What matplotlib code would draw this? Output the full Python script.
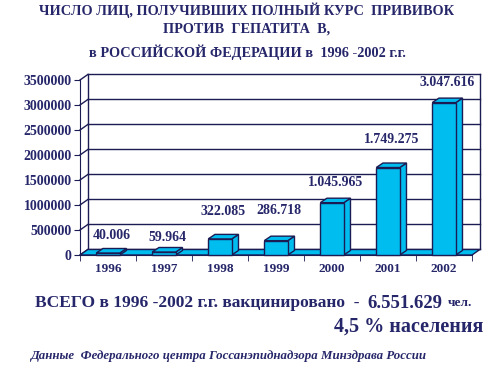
import matplotlib
matplotlib.use("Agg")
import matplotlib.pyplot as plt
from matplotlib.patches import Polygon

years = ["1996", "1997", "1998", "1999", "2000", "2001", "2002"]
vaccinated = [40006, 59964, 322085, 286718, 1045965, 1749275, 3047616]
value_labels = ["40.006", "59.964", "322.085", "286.718", "1.045.965", "1.749.275", "3.047.616"]
yticks = [0, 500000, 1000000, 1500000, 2000000, 2500000, 3000000, 3500000]

title_lines = ["ЧИСЛО ЛИЦ, ПОЛУЧИВШИХ ПОЛНЫЙ КУРС  ПРИВИВОК",
               "ПРОТИВ  ГЕПАТИТА  В,",
               "в РОССИЙСКОЙ ФЕДЕРАЦИИ в  1996 -2002 г.г."]
source_note = "Данные  Федерального центра Госсанэпиднадзора Минздрава России"

navy = "#26266a"
edge = "#1c1c55"
cyan = "#00bdf0"

plt.rcParams['font.family'] = ['Liberation Serif', 'DejaVu Serif']

fig = plt.figure(figsize=(5, 3.75), dpi=100)
ax = fig.add_axes([0.16, 0.32, 0.784, 0.4667])
ax.set_xlim(-0.5, 6.5)
ax.set_ylim(0, 3500000)

# pseudo-3d offsets (wall and bars)
wdx, wdy = 0.14, 110000
bdx, bdy = 0.12, 90000
x0, x1 = -0.5, 6.5
ytop = yticks[-1]

# back wall gridlines + side wall diagonals
for v in yticks:
    ax.plot([x0 + wdx, x1 + wdx], [v + wdy, v + wdy], color=edge, lw=1.0, clip_on=False, zorder=1)
    ax.plot([x0, x0 + wdx], [v, v + wdy], color=edge, lw=1.0, clip_on=False, zorder=1)
ax.plot([x0 + wdx, x0 + wdx], [wdy, ytop + wdy], color=edge, lw=1.0, clip_on=False, zorder=1)
ax.plot([x1 + wdx, x1 + wdx], [wdy, ytop + wdy], color=edge, lw=1.0, clip_on=False, zorder=1)

# floor
floor = Polygon([(x0, 0), (x1, 0), (x1 + wdx, wdy), (x0 + wdx, wdy)], closed=True,
                facecolor=cyan, edgecolor=edge, lw=1.0, clip_on=False, zorder=2)
ax.add_patch(floor)

# bars
w = 0.21
offsets_px = [11, 8, 21, 24, 14, 22, 14]
for i, v in enumerate(vaccinated):
    l, r = i - w, i + w
    front = Polygon([(l, 0), (r, 0), (r, v), (l, v)], closed=True)
    top = Polygon([(l, v), (r, v), (r + bdx, v + bdy), (l + bdx, v + bdy)], closed=True)
    side = Polygon([(r, 0), (r + bdx, bdy), (r + bdx, v + bdy), (r, v)], closed=True)
    for p in (side, front, top):
        p.set_facecolor(cyan)
        p.set_edgecolor(edge)
        p.set_linewidth(1.0)
        p.set_zorder(3)
        p.set_clip_on(False)
        ax.add_patch(p)
    ax.annotate(value_labels[i], (i + bdx / 2, v), xytext=(0, offsets_px[i]),
                textcoords="offset pixels", ha="center", va="bottom",
                fontsize=10, fontweight="bold", color=navy, zorder=4)

for s in ["top", "right"]:
    ax.spines[s].set_visible(False)
ax.spines["left"].set_color(edge)
ax.spines["bottom"].set_color(edge)
ax.spines["left"].set_zorder(5)

ax.set_yticks(yticks)
ax.set_yticklabels([str(t) for t in yticks], fontsize=10, fontweight="bold", color=navy)
ax.set_xticks(range(len(years)))
ax.set_xticklabels(years, fontsize=9.5, fontweight="bold", color=navy)
ax.set_xticks([i - 0.5 for i in range(len(years) + 1)], minor=True)
ax.tick_params(axis="x", which="major", length=0, pad=6)
ax.tick_params(axis="x", which="minor", length=4, color=edge)
ax.tick_params(axis="y", length=4, color=edge, pad=2)

# titles
ty = [1 - 10 / 375, 1 - 29 / 375, 1 - 52 / 375]
for line, y in zip(title_lines, ty):
    fig.text(0.494, y, line, ha="center", va="center", fontsize=10.3,
             fontweight="bold", color=navy)

fig.text(0.07, 1 - 303 / 375, "ВСЕГО в 1996 -2002 г.г. вакцинировано  - ", ha="left",
         va="center", fontsize=12.5, fontweight="bold", color=navy)
fig.text(0.734, 1 - 303 / 375, "6.551.629", ha="left", va="center", fontsize=13.5,
         fontweight="bold", color=navy)
fig.text(0.896, 1 - 303 / 375, "чел.", ha="left", va="center", fontsize=9.5,
         fontweight="bold", color=navy)
fig.text(0.966, 1 - 327 / 375, "4,5 % населения", ha="right", va="center", fontsize=14.5,
         fontweight="bold", color=navy)
fig.text(0.062, 1 - 356 / 375, source_note, ha="left", va="center", fontsize=9.3,
         fontweight="bold", style="italic", color=navy)

fig.savefig("out.png", dpi=100)
